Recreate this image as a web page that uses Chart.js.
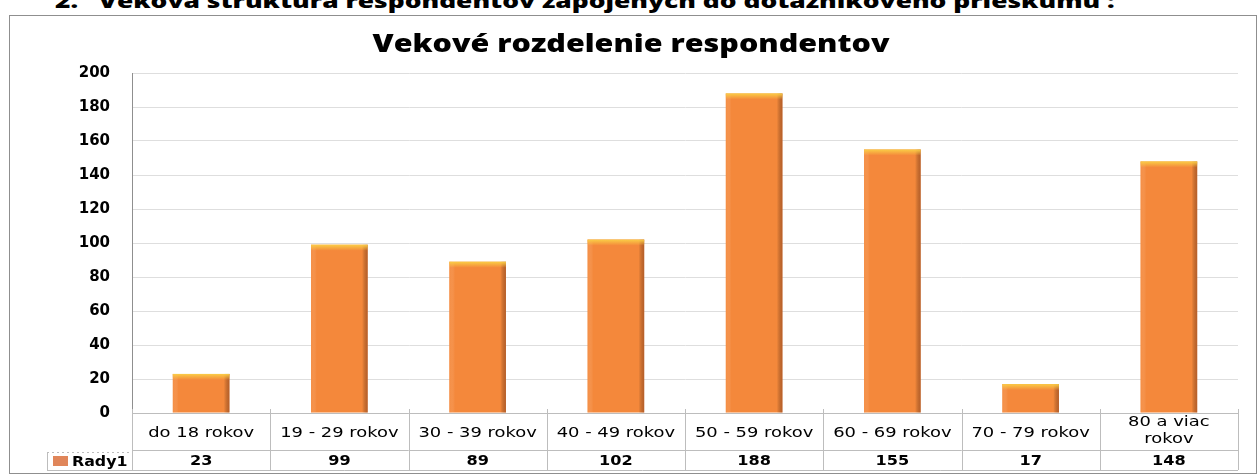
<!DOCTYPE html>
<html>
<head>
<meta charset="utf-8">
<script src="https://cdn.jsdelivr.net/npm/chart.js@4"></script>
<style>
  html, body { margin: 0; padding: 0; background: #fff; overflow: hidden; }
  body { width: 1259px; height: 475px; position: relative; }
  #heading {
    position: absolute; left: 55px; top: -9px;
    font: 800 20px "Open Sans", sans-serif; line-height: 20px;
    white-space: nowrap; transform-origin: 0 0; color: #000;
  }
  #box {
    position: absolute; left: 9px; top: 15px;
    width: 1248px; height: 459px; box-sizing: border-box;
    border: 1px solid #8f8f8f;
  }
</style>
</head>
<body>
<div id="heading">2.&nbsp;&nbsp; Veková štruktúra respondentov zapojených do dotazníkového prieskumu :</div>
<div id="box"><canvas id="barChart"></canvas></div>
<script>
const chartTitle = "Vekové rozdelenie respondentov";
const seriesName = "Rady1";
const categories = [
  "do 18 rokov",
  "19 - 29 rokov",
  "30 - 39 rokov",
  "40 - 49 rokov",
  "50 - 59 rokov",
  "60 - 69 rokov",
  "70 - 79 rokov",
  ["80 a viac", "rokov"],
];
const counts = [23, 99, 89, 102, 188, 155, 17, 148];
const yMin = 0;
const yMax = 200;
const yStep = 20;

// stretch the heading so it spans like the scanned one
const heading = document.getElementById("heading");
heading.style.transform = "scaleX(" + (1060 / heading.offsetWidth) + ")";

function stretchText(ctx, text, x, y, sx, align) {
  ctx.save();
  ctx.translate(x, y);
  ctx.scale(sx, 1);
  ctx.textAlign = align;
  ctx.fillText(text, 0, 0);
  ctx.restore();
}

// shading on the bars (dark right edge, yellow top)
const barShade = {
  id: "barShade",
  afterDatasetsDraw(chart) {
    const ctx = chart.ctx;
    chart.getDatasetMeta(0).data.forEach((el) => {
      const { x, y, width, base } = el.getProps(["x", "y", "width", "base"], true);
      const l = x - width / 2;
      const h = base - y;
      ctx.save();
      const g = ctx.createLinearGradient(l, 0, l + width, 0);
      g.addColorStop(0, "rgba(245,150,80,0.3)");
      g.addColorStop(0.1, "rgba(255,255,255,0)");
      g.addColorStop(0.9, "rgba(0,0,0,0)");
      g.addColorStop(1, "rgba(110,45,20,0.45)");
      ctx.fillStyle = g;
      ctx.fillRect(l, y, width, h);
      const t = ctx.createLinearGradient(0, y, 0, y + 6);
      t.addColorStop(0, "rgba(250,205,70,1)");
      t.addColorStop(1, "rgba(250,205,70,0)");
      ctx.fillStyle = t;
      ctx.fillRect(l, y, width, Math.min(6, h));
      ctx.restore();
    });
  },
};

// title and the data table under the plot
const tableAndTitle = {
  id: "tableAndTitle",
  afterDraw(chart) {
    const ctx = chart.ctx;
    const xs = chart.scales.x;
    const area = chart.chartArea;
    ctx.save();

    ctx.fillStyle = "#000";
    ctx.textBaseline = "middle";
    ctx.font = '800 24px "Open Sans", sans-serif';
    const tw = ctx.measureText(chartTitle).width;
    stretchText(ctx, chartTitle, 621, 29, 517 / tw, "center");

    const n = categories.length;
    const colW = (xs.right - xs.left) / n;
    const top = area.bottom;
    const mid = 434;
    const bot = 454;

    ctx.strokeStyle = "#bdbdbd";
    ctx.lineWidth = 1;
    ctx.beginPath();
    ctx.moveTo(xs.left, top + 0.5); ctx.lineTo(xs.right, top + 0.5);
    ctx.moveTo(xs.left, mid + 0.5); ctx.lineTo(xs.right, mid + 0.5);
    ctx.moveTo(37, bot + 0.5); ctx.lineTo(xs.right, bot + 0.5);
    for (let k = 0; k <= n; k++) {
      const bx = Math.round(xs.left + k * colW) + 0.5;
      ctx.moveTo(bx, top - 4); ctx.lineTo(bx, bot);
    }
    ctx.moveTo(37.5, mid + 2); ctx.lineTo(37.5, bot);
    ctx.stroke();
    ctx.setLineDash([2, 3]);
    ctx.beginPath();
    ctx.moveTo(37, mid + 2.5); ctx.lineTo(xs.left, mid + 2.5);
    ctx.stroke();
    ctx.setLineDash([]);

    categories.forEach((c, i) => {
      const cx = xs.getPixelForValue(i);
      ctx.font = '14px "DejaVu Sans", sans-serif';
      if (Array.isArray(c)) {
        stretchText(ctx, c[0], cx, 406, 1.28, "center");
        stretchText(ctx, c[1], cx, 423, 1.28, "center");
      } else {
        stretchText(ctx, c, cx, 417, 1.28, "center");
      }
      ctx.font = 'bold 14px "DejaVu Sans", sans-serif';
      stretchText(ctx, String(counts[i]), cx, 445, 1.15, "center");
    });

    ctx.fillStyle = "#e0865a";
    ctx.fillRect(43, 440, 15, 10);
    ctx.fillStyle = "#000";
    ctx.font = 'bold 14px "DejaVu Sans", sans-serif';
    stretchText(ctx, seriesName, 62, 446, 1.13, "left");
    ctx.restore();
  },
};

const barChart = new Chart(document.getElementById("barChart"), {
  type: "bar",
  data: {
    labels: categories,
    datasets: [
      {
        label: seriesName,
        data: counts,
        backgroundColor: "#f4883b",
        borderWidth: 0,
        barPercentage: 0.41,
        categoryPercentage: 1,
      },
    ],
  },
  options: {
    responsive: true,
    maintainAspectRatio: false,
    animation: false,
    layout: { padding: { top: 57, right: 18, left: 0, bottom: 0 } },
    plugins: {
      legend: { display: false },
      title: { display: false },
      tooltip: { enabled: false },
    },
    scales: {
      x: {
        ticks: { display: false },
        grid: { display: false },
        border: { display: false },
        afterFit: (s) => { s.height = 60; },
      },
      y: {
        min: yMin,
        max: yMax,
        ticks: {
          stepSize: yStep,
          padding: 22,
          color: "#000",
          font: { family: "DejaVu Sans", size: 15, weight: "bold" },
        },
        grid: { color: "#dedede", drawTicks: false },
        border: { color: "#8f8f8f" },
        afterFit: (s) => { s.width = 122; },
      },
    },
  },
  plugins: [barShade, tableAndTitle],
});
</script>
</body>
</html>
